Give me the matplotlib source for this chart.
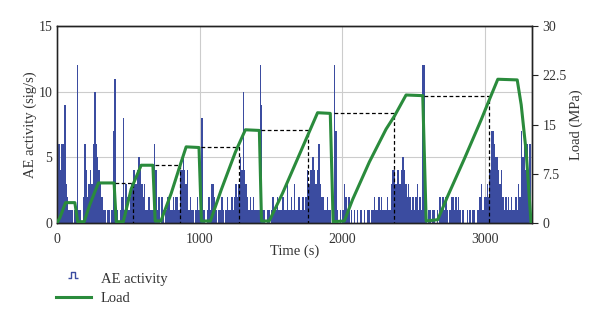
import matplotlib
matplotlib.use("Agg")
import matplotlib.pyplot as plt
from matplotlib.path import Path
from matplotlib.lines import Line2D
import numpy as np

# AE activity (sig/s), 10 s bins starting at t = 0
ae_bin = 10
ae_values = [
    6, 6, 4, 6, 6, 9, 3, 2, 1, 1,        # 0-100
    1, 0, 1, 1, 12, 1, 1, 0, 2, 6,       # 100-200
    4, 2, 3, 4, 3, 6, 10, 6, 5, 4,       # 200-300
    3, 2, 1, 1, 0, 1, 1, 0, 1, 7,        # 300-400
    11, 1, 1, 0, 1, 2, 8, 1, 3, 2,       # 400-500
    1, 2, 3, 4, 4, 3, 4, 5, 4, 3,        # 500-600
    2, 3, 1, 1, 2, 1, 1, 1, 6, 4,        # 600-700
    1, 2, 0, 2, 1, 0, 1, 2, 2, 1,        # 700-800
    1, 2, 1, 2, 2, 1, 4, 4, 5, 4,        # 800-900
    3, 4, 1, 2, 1, 1, 0, 1, 2, 1,        # 900-1000
    1, 8, 1, 1, 0, 1, 2, 1, 3, 3,        # 1000-1100
    2, 1, 0, 1, 1, 2, 1, 0, 1, 2,        # 1100-1200
    1, 1, 2, 1, 2, 3, 2, 3, 5, 4,        # 1200-1300
    10, 4, 3, 2, 1, 2, 1, 2, 1, 1,       # 1300-1400
    1, 1, 12, 9, 1, 1, 0, 1, 1, 0,       # 1400-1500
    1, 2, 1, 1, 2, 1, 1, 1, 2, 1,        # 1500-1600
    1, 3, 1, 1, 2, 1, 3, 1, 1, 2,        # 1600-1700
    1, 1, 2, 1, 2, 4, 3, 4, 4, 5,        # 1700-1800
    4, 3, 4, 6, 3, 2, 2, 1, 1, 2,        # 1800-1900
    1, 1, 0, 1, 12, 7, 1, 0, 1, 0,       # 1900-2000
    1, 3, 2, 1, 2, 0, 1, 0, 1, 0,        # 2000-2100
    1, 0, 1, 1, 0, 1, 0, 1, 1, 0,        # 2100-2200
    1, 1, 2, 1, 1, 2, 1, 2, 1, 1,        # 2200-2300
    1, 2, 1, 1, 3, 4, 4, 3, 4, 4,        # 2300-2400
    3, 4, 5, 4, 3, 2, 3, 2, 1, 2,        # 2400-2500
    1, 2, 3, 1, 2, 1, 12, 12, 1, 0,      # 2500-2600
    1, 1, 0, 1, 1, 0, 1, 0, 2, 1,        # 2600-2700
    2, 1, 2, 1, 0, 1, 2, 2, 1, 2,        # 2700-2800
    1, 2, 1, 0, 1, 0, 0, 1, 0, 1,        # 2800-2900
    0, 1, 1, 0, 1, 1, 2, 3, 1, 2,        # 2900-3000
    2, 3, 2, 4, 7, 7, 6, 5, 5, 4,        # 3000-3100
    3, 4, 2, 1, 2, 1, 2, 1, 2, 1,        # 3100-3200
    1, 2, 1, 3, 2, 7, 5, 7, 4, 6,        # 3200-3300
    3, 6,                                # 3300-3320
]
ae_time = [i * ae_bin for i in range(len(ae_values))]

# Load (MPa) breakpoints
load_time = [0, 20, 60, 125, 145, 190, 230, 290, 400, 415, 465, 520, 590,
             672, 688, 728, 800, 860, 905, 995, 1012, 1075, 1150, 1250, 1320,
             1418, 1433, 1487, 1580, 1700, 1780, 1826, 1915, 1935, 2013, 2072,
             2189, 2306, 2365, 2446, 2563, 2587, 2668, 2738, 2855, 2972, 3030,
             3089, 3225, 3253, 3288, 3322]
load_value = [0, 0.8, 3.1, 3.1, 0.2, 0.2, 2.8, 6.1, 6.1, 0.2, 0.2, 5.2, 8.8,
              8.8, 0.3, 0.3, 4.5, 8.6, 11.6, 11.5, 0.3, 0.3, 5.0, 10.8, 14.2,
              14.1, 0.3, 0.3, 4.5, 10.5, 14.5, 16.8, 16.7, 0.2, 0.3, 3.6,
              9.3, 14.3, 16.3, 19.5, 19.4, 0.3, 0.5, 4.1, 9.8, 15.7, 18.8,
              21.9, 21.8, 18.0, 10.8, 0]

# Dashed guide lines: previous max load and time it is reached again
guide_level = [6.1, 8.8, 11.6, 14.1, 16.8, 19.3]
guide_start = [405, 686, 1007, 1428, 1938, 2575]
guide_end = [532, 862, 1272, 1756, 2365, 3030]

blue = "#3b4ca0"
green = "#2a8b3c"
txt = "#333333"

plt.rcParams['font.family'] = ['Liberation Serif', 'DejaVu Serif']

fig = plt.figure(figsize=(6.0, 3.22), dpi=100)
ax = fig.add_axes([0.095, 0.3075, 0.792, 0.6115])
ax2 = ax.twinx()

ax.bar(ae_time, ae_values, width=ae_bin, align='edge', color=blue,
       linewidth=0, zorder=2)
ax.set_xlim(0, 3330)
ax.set_ylim(0, 15)
ax.set_yticks([0, 5, 10, 15])
ax.set_xticks([0, 1000, 2000, 3000])
ax.grid(True, color="#cccccc", linewidth=0.8, zorder=0)
ax.set_axisbelow(True)

ax2.plot(load_time, load_value, color=green, linewidth=2.2, zorder=4)
for lvl, t0, t1 in zip(guide_level, guide_start, guide_end):
    ax2.plot([t0, t1, t1], [lvl, lvl, 0], color="black", linewidth=0.9,
             linestyle=(0, (3, 2)), zorder=3)
ax2.set_ylim(0, 30)
ax2.set_yticks([0, 7.5, 15, 22.5, 30])
ax2.set_yticklabels(["0", "7.5", "15", "22.5", "30"])
ax2.set_xlim(0, 3330)

for a in (ax, ax2):
    for s in a.spines.values():
        s.set_color("#222222")
        s.set_linewidth(1.0)
    a.tick_params(labelsize=10, colors=txt, length=0)
ax.spines['left'].set_color("#666666")
ax.tick_params(axis='x', pad=7)
ax2.tick_params(axis='y', length=4, color="#222222", labelcolor=txt)

ax.set_xlabel("Time (s)", fontsize=10.5, color=txt, labelpad=-1)
ax.set_ylabel("AE activity (sig/s)", fontsize=10.5, color=txt, labelpad=1)
ax2.set_ylabel("Load (MPa)", fontsize=10.5, color=txt, labelpad=2)

pulse = Path([(-1, 0), (-0.35, 0), (-0.35, 1.2), (0.35, 1.2), (0.35, 0), (1, 0)],
             [Path.MOVETO] + [Path.LINETO] * 5)
h_ae = Line2D([], [], color=blue, marker=pulse, markersize=9, linestyle='none',
              markeredgewidth=1.0, markerfacecolor='none', markeredgecolor=blue)
h_load = Line2D([], [], color=green, linewidth=2.2)
fig.legend([h_ae, h_load], ["AE activity", "Load"], loc='upper left',
           bbox_to_anchor=(0.083, 0.17), frameon=False, fontsize=10.5,
           handlelength=2.4, handletextpad=0.7, labelspacing=0.35,
           labelcolor=txt, borderaxespad=0)

fig.savefig("out.png", dpi=100)
